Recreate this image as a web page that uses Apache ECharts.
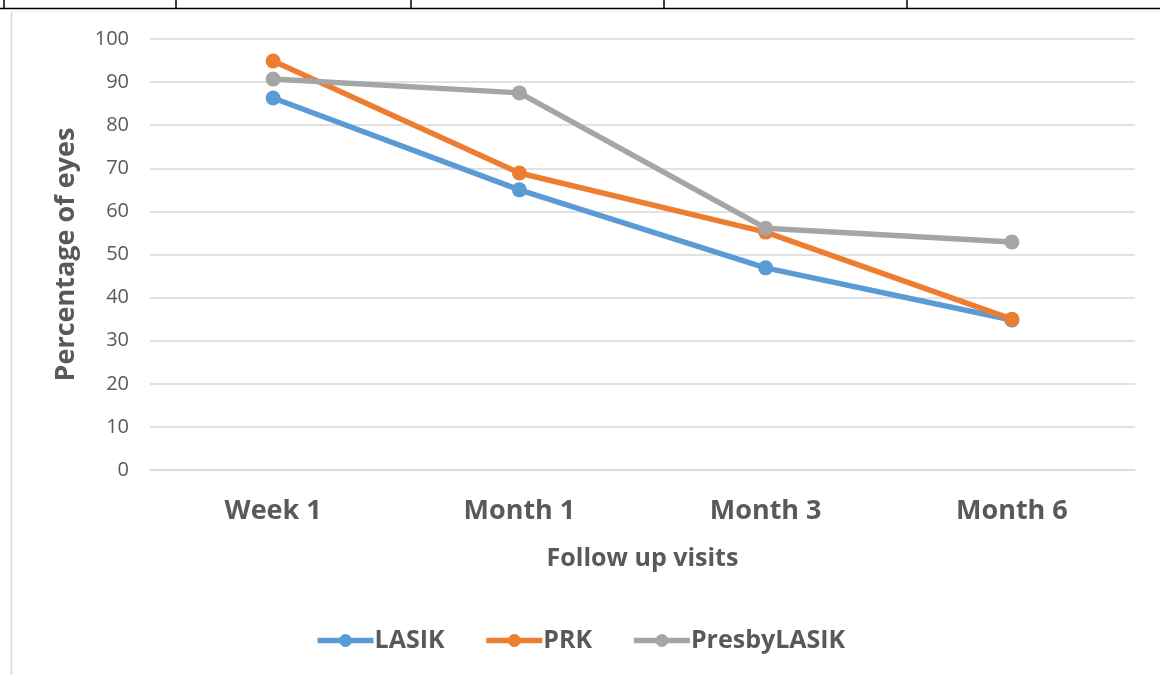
<!DOCTYPE html>
<html>
<head>
<meta charset="utf-8">
<script src="https://cdn.jsdelivr.net/npm/echarts@6/dist/echarts.min.js"></script>
<style>
  html, body { margin: 0; padding: 0; background: #fff; }
  #chart { width: 1160px; height: 675px; }
</style>
</head>
<body>
<div id="chart"></div>
<script>
const categories = ['Week 1', 'Month 1', 'Month 3', 'Month 6']
const lasik = [86.3, 65.0, 46.9, 34.8]
const prk = [94.9, 68.9, 55.2, 35.0]
const presbyLasik = [90.7, 87.5, 56.1, 52.9]
const yTicks = [0, 10, 20, 30, 40, 50, 60, 70, 80, 90, 100]

const colors = ['#5B9BD5', '#ED7D31', '#A5A5A5']
const fontFamily = '"Open Sans", "Noto Sans", sans-serif'

const chart = echarts.init(document.getElementById('chart'))

const makeSeries = (name, data) => ({
  name,
  type: 'line',
  data,
  symbol: 'circle',
  symbolSize: 15,
  lineStyle: { width: 5.5 },
  emphasis: { disabled: true },
  z: 3
})

// table borders above the chart
const tableCols = [4, 176, 411, 664, 907]

const option = {
  animation: false,
  color: colors,
  grid: { left: 150, right: 25, top: 39, bottom: 205 },
  legend: {
    bottom: 17,
    left: 'center',
    itemWidth: 56,
    itemHeight: 16,
    itemGap: 39,
    lineStyle: { width: 5.5 },
    textStyle: { fontFamily, fontSize: 25, fontWeight: 'bold', color: '#595959', padding: [0, 0, 0, -4] },
    data: ['LASIK', 'PRK', 'PresbyLASIK']
  },
  xAxis: {
    type: 'category',
    data: categories,
    name: 'Follow up visits',
    nameLocation: 'middle',
    nameGap: 76,
    nameTextStyle: { fontFamily, fontSize: 25, fontWeight: 'bold', color: '#595959' },
    axisLine: { lineStyle: { color: '#D9D9D9', width: 1.5 } },
    axisTick: { show: false },
    axisLabel: { fontFamily, fontSize: 27, fontWeight: 'bold', color: '#595959', margin: 28 }
  },
  yAxis: {
    type: 'value',
    min: yTicks[0],
    max: yTicks[yTicks.length - 1],
    interval: 10,
    name: 'Percentage of eyes',
    nameLocation: 'middle',
    nameGap: 70,
    nameTextStyle: { fontFamily, fontSize: 27, fontWeight: 'bold', color: '#595959' },
    axisLine: { show: false },
    axisTick: { show: false },
    splitLine: { lineStyle: { color: '#D9D9D9', width: 1.5 } },
    axisLabel: { fontFamily, fontSize: 20, color: '#595959', margin: 21 }
  },
  graphic: [
    { type: 'line', shape: { x1: 0, y1: 8.5, x2: 1160, y2: 8.5 }, style: { stroke: '#000', lineWidth: 1.5 } },
    ...tableCols.map(x => ({ type: 'line', shape: { x1: x, y1: 0, x2: x, y2: 8 }, style: { stroke: '#000', lineWidth: 1.5 } })),
    { type: 'line', shape: { x1: 11.5, y1: 11, x2: 11.5, y2: 675 }, style: { stroke: '#D9D9D9', lineWidth: 1.5 } },
    { type: 'line', shape: { x1: 11, y1: 11.5, x2: 1160, y2: 11.5 }, style: { stroke: '#EDEDED', lineWidth: 1 } }
  ],
  series: [
    makeSeries('LASIK', lasik),
    makeSeries('PRK', prk),
    makeSeries('PresbyLASIK', presbyLasik)
  ]
}

chart.setOption(option)
</script>
</body>
</html>
